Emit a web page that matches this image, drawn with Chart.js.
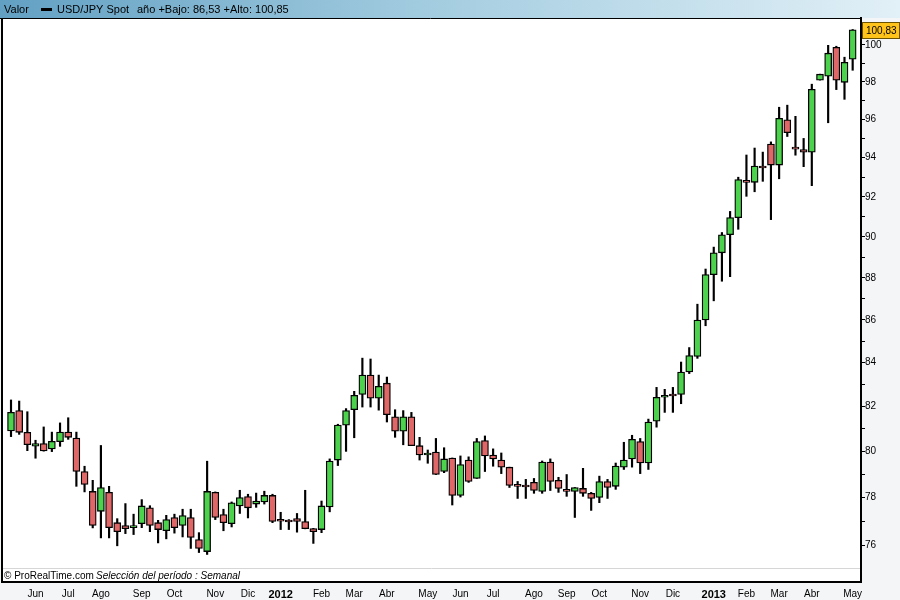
<!DOCTYPE html>
<html>
<head>
<meta charset="utf-8">
<style>
  html, body { margin: 0; padding: 0; background: #f4f5f7; }
  canvas { display: block; }
</style>
<script src="https://cdn.jsdelivr.net/npm/chart.js@4.4.1/dist/chart.umd.min.js"></script>
</head>
<body>
<canvas id="chart" width="900" height="600"></canvas>
<script>
// weekly candles, USD/JPY spot (week start dates)
const weeks = [
  "2011-05-16","2011-05-23","2011-05-30","2011-06-06","2011-06-13","2011-06-20","2011-06-27",
  "2011-07-04","2011-07-11","2011-07-18","2011-07-25","2011-08-01","2011-08-08","2011-08-15",
  "2011-08-22","2011-08-29","2011-09-05","2011-09-12","2011-09-19","2011-09-26","2011-10-03",
  "2011-10-10","2011-10-17","2011-10-24","2011-10-31","2011-11-07","2011-11-14","2011-11-21",
  "2011-11-28","2011-12-05","2011-12-12","2011-12-19","2011-12-26","2012-01-02","2012-01-09",
  "2012-01-16","2012-01-23","2012-01-30","2012-02-06","2012-02-13","2012-02-20","2012-02-27",
  "2012-03-05","2012-03-12","2012-03-19","2012-03-26","2012-04-02","2012-04-09","2012-04-16",
  "2012-04-23","2012-04-30","2012-05-07","2012-05-14","2012-05-21","2012-05-28","2012-06-04",
  "2012-06-11","2012-06-18","2012-06-25","2012-07-02","2012-07-09","2012-07-16","2012-07-23",
  "2012-07-30","2012-08-06","2012-08-13","2012-08-20","2012-08-27","2012-09-03","2012-09-10",
  "2012-09-17","2012-09-24","2012-10-01","2012-10-08","2012-10-15","2012-10-22","2012-10-29",
  "2012-11-05","2012-11-12","2012-11-19","2012-11-26","2012-12-03","2012-12-10","2012-12-17",
  "2012-12-24","2012-12-31","2013-01-07","2013-01-14","2013-01-21","2013-01-28","2013-02-04",
  "2013-02-11","2013-02-18","2013-02-25","2013-03-04","2013-03-11","2013-03-18","2013-03-25",
  "2013-04-01","2013-04-08","2013-04-15","2013-04-22","2013-04-29","2013-05-06"
];

const opens = [
  80.91,81.82,80.85,80.24,80.35,80.12,80.44,80.86,80.60,79.13,78.27,77.42,78.23,76.94,76.82,76.73,
  76.90,77.57,76.94,76.60,77.16,76.82,77.16,76.23,75.73,78.23,77.28,76.90,77.65,78.05,77.73,77.82,
  78.10,77.06,77.01,77.11,76.99,76.69,76.65,77.61,79.63,81.17,81.86,82.55,83.43,82.38,83.06,81.54,
  80.90,81.54,80.26,79.85,79.98,79.13,79.72,78.10,79.63,78.83,80.49,79.85,79.63,79.32,78.54,78.51,
  78.66,78.27,79.54,78.75,78.36,78.27,78.40,78.19,78.01,78.70,78.49,79.32,79.68,80.44,79.50,81.35,
  82.42,82.54,82.55,83.57,84.29,85.99,88.16,89.22,90.11,90.96,92.84,92.74,93.57,94.71,93.62,95.98,
  94.50,94.42,94.28,98.09,98.30,99.87,97.97,99.22
];
const highs = [
  82.30,82.25,81.77,80.50,81.09,80.86,81.27,81.50,80.86,79.36,78.75,80.27,78.49,77.11,77.75,77.30,
  77.92,77.66,77.04,77.25,77.30,77.51,77.51,76.52,79.58,78.25,77.51,77.82,78.32,78.15,78.20,78.28,
  78.15,77.38,77.07,77.33,78.32,76.70,77.86,79.68,81.21,81.91,82.69,84.21,84.17,83.43,83.34,81.86,
  81.82,81.74,80.63,80.07,80.58,80.17,79.72,79.81,79.77,80.58,80.69,80.12,79.94,79.32,78.70,78.79,
  78.83,79.59,79.68,78.88,79.00,78.44,79.27,78.23,78.93,78.79,79.50,80.41,80.72,80.58,81.44,82.87,
  82.78,82.87,84.03,84.70,86.74,88.43,89.50,90.22,91.27,93.00,94.14,94.50,94.29,94.82,96.64,96.75,
  96.16,95.00,97.87,98.41,99.98,99.93,99.33,100.85
];
const lows = [
  80.66,80.76,80.04,79.71,80.02,80.00,80.23,80.54,78.49,78.25,76.72,76.30,76.30,75.97,76.48,76.44,
  76.73,76.56,76.09,76.26,76.50,76.34,75.86,75.69,75.61,77.07,76.60,76.76,77.33,77.14,77.59,77.73,
  76.94,76.65,76.65,76.54,76.68,76.07,76.52,77.40,79.39,80.01,80.61,81.98,81.98,81.84,81.31,80.63,
  80.30,80.26,79.63,79.49,79.00,79.08,77.69,78.03,78.66,78.83,79.13,79.36,79.04,78.44,77.97,77.97,
  78.19,78.19,78.31,78.23,78.06,77.16,78.06,77.46,77.79,77.97,78.36,79.22,79.32,79.04,79.22,81.08,
  81.74,81.74,82.13,83.50,84.20,85.72,86.90,87.84,88.06,90.38,92.03,92.26,92.79,90.86,92.92,95.10,
  94.13,93.54,92.57,98.09,95.82,97.58,97.06,98.62
];
const closes = [
  81.74,80.85,80.30,80.35,80.03,80.45,80.86,80.63,79.13,78.57,76.82,78.44,76.73,76.56,76.69,76.82,
  77.65,76.82,76.65,77.07,76.73,77.24,76.32,75.86,78.27,77.16,76.94,77.78,78.01,77.57,77.86,78.10,
  76.99,77.00,76.97,76.99,76.69,76.56,77.65,79.59,81.17,81.82,82.51,83.43,82.38,82.92,81.64,80.90,
  81.54,80.26,79.85,79.94,79.00,79.68,78.10,79.43,78.70,80.44,79.81,79.68,79.32,78.53,78.49,78.46,
  78.31,79.54,78.70,78.40,78.27,78.44,78.19,77.97,78.70,78.44,79.37,79.63,80.54,79.50,81.31,82.42,
  82.51,82.48,83.57,84.33,85.99,88.16,89.22,90.11,90.96,92.88,92.74,93.57,93.47,93.62,96.05,95.30,
  94.44,94.28,97.60,98.41,99.55,98.08,99.05,100.83
];

const monthNames = ["Ene","Feb","Mar","Abr","May","Jun","Jul","Ago","Sep","Oct","Nov","Dic"];
const yTicks = [76,77,78,79,80,81,82,83,84,85,86,87,88,89,90,91,92,93,94,95,96,97,98,99,100,101];

const FONT = "'Liberation Sans', Arial, sans-serif";
const UP = "#4cd24c";
const DOWN = "#e06767";

// first week of each new month gets an axis label
const monthStarts = weeks
  .map((w, i) => i)
  .filter(i => i > 0 && weeks[i].slice(5, 7) !== weeks[i - 1].slice(5, 7));

function isJanuary(i) {
  return weeks[i] !== undefined && weeks[i].slice(5, 7) === "01";
}

function weekLabel(i) {
  const d = weeks[i];
  if (!d) return "";
  const m = parseInt(d.slice(5, 7), 10);
  return m === 1 ? d.slice(0, 4) : monthNames[m - 1];
}

const frame = {
  id: "frame",
  beforeDraw(chart) {
    const c = chart.ctx;
    c.save();
    c.fillStyle = "#f4f5f7";
    c.fillRect(0, 0, 900, 600);
    c.fillStyle = "#ffffff";
    c.fillRect(2, 18, 859, 564);

    // header bar
    const g = c.createLinearGradient(0, 0, 900, 0);
    g.addColorStop(0, "#62a0c3");
    g.addColorStop(0.5, "#a6cee1");
    g.addColorStop(1, "#e2f0f7");
    c.fillStyle = g;
    c.fillRect(0, 0, 900, 18);
    c.fillStyle = "#000";
    c.font = "11px " + FONT;
    c.textBaseline = "middle";
    c.fillText("Valor", 4, 9.5);
    c.fillRect(41, 8, 11, 3);
    c.fillText("USD/JPY Spot", 57, 9.5);
    c.fillText("año +Bajo: 86,53 +Alto: 100,85", 137, 9.5);
    c.restore();
  },
  afterDraw(chart) {
    const c = chart.ctx;
    const y = chart.scales.y;
    c.save();
    // footer strip
    c.strokeStyle = "#d6d6d6";
    c.lineWidth = 1;
    c.beginPath();
    c.moveTo(3, 568.5);
    c.lineTo(860, 568.5);
    c.stroke();
    c.fillStyle = "#000";
    c.textBaseline = "middle";
    c.font = "10px " + FONT;
    c.fillText("\u00a9 ProRealTime.com", 4, 576);
    c.font = "italic 10px " + FONT;
    c.fillText("Selección del período : Semanal", 96, 576);

    // frame lines
    c.strokeStyle = "#000";
    c.lineWidth = 1;
    c.beginPath();
    c.moveTo(0, 18.5);
    c.lineTo(861, 18.5);
    c.stroke();
    c.lineWidth = 2;
    c.beginPath();
    c.moveTo(2, 18);
    c.lineTo(2, 583);
    c.moveTo(1, 582);
    c.lineTo(862, 582);
    c.moveTo(861, 18);
    c.lineTo(861, 583);
    c.stroke();

    // last close marker
    const last = closes[closes.length - 1];
    const py = Math.round(y.getPixelForValue(last));
    c.fillStyle = "#ffc31a";
    c.fillRect(862, py - 8, 38, 17);
    c.strokeStyle = "#6b5200";
    c.lineWidth = 1;
    c.strokeRect(862.5, py - 7.5, 37, 16);
    c.fillStyle = "#000";
    c.font = "10px " + FONT;
    c.fillText(last.toFixed(2).replace(".", ","), 866, py + 1);
    c.restore();
  }
};

const ctx = document.getElementById("chart").getContext("2d");

new Chart(ctx, {
  type: "bar",
  data: {
    datasets: [
      {
        label: "wick",
        data: weeks.map((w, i) => ({ x: i, y: [lows[i], highs[i]] })),
        backgroundColor: "#000",
        barThickness: 1.5,
        grouped: false,
        order: 2
      },
      {
        label: "body",
        data: weeks.map((w, i) => ({ x: i, y: [opens[i], closes[i]] })),
        backgroundColor: weeks.map((w, i) => (closes[i] >= opens[i] ? UP : DOWN)),
        borderColor: "#000",
        borderWidth: 1.3,
        borderSkipped: false,
        barThickness: 7,
        minBarLength: 2,
        grouped: false,
        order: 1
      }
    ]
  },
  plugins: [frame],
  options: {
    responsive: false,
    animation: false,
    events: [],
    layout: { padding: { top: 18, left: 3, right: 0, bottom: 0 } },
    plugins: { legend: { display: false }, tooltip: { enabled: false } },
    scales: {
      x: {
        type: "linear",
        min: -0.98,
        max: 104.02,
        offset: false,
        grid: { display: false },
        border: { display: false },
        afterFit(scale) { scale.height = 32; },
        afterBuildTicks(scale) { scale.ticks = monthStarts.map(i => ({ value: i })); },
        ticks: {
          autoSkip: false,
          maxRotation: 0,
          minRotation: 0,
          padding: 12,
          color: "#000",
          font: c => {
            const jan = c && c.tick ? isJanuary(c.tick.value) : false;
            return { family: FONT, size: jan ? 11 : 10, weight: jan ? "bold" : "normal" };
          },
          callback: v => weekLabel(v)
        }
      },
      y: {
        type: "logarithmic",
        position: "right",
        min: 75.05,
        max: 101.49,
        afterFit(scale) { scale.width = 39; },
        afterBuildTicks(scale) { scale.ticks = yTicks.map(v => ({ value: v })); },
        grid: { drawOnChartArea: false, drawTicks: true, tickLength: 4, color: "#000" },
        border: { display: true, color: "#000", width: 2 },
        ticks: {
          autoSkip: false,
          padding: 0,
          color: "#000",
          font: { family: FONT, size: 10 },
          callback: v => (v % 2 === 0 ? String(v) : "")
        }
      }
    }
  }
});
</script>
</body>
</html>
